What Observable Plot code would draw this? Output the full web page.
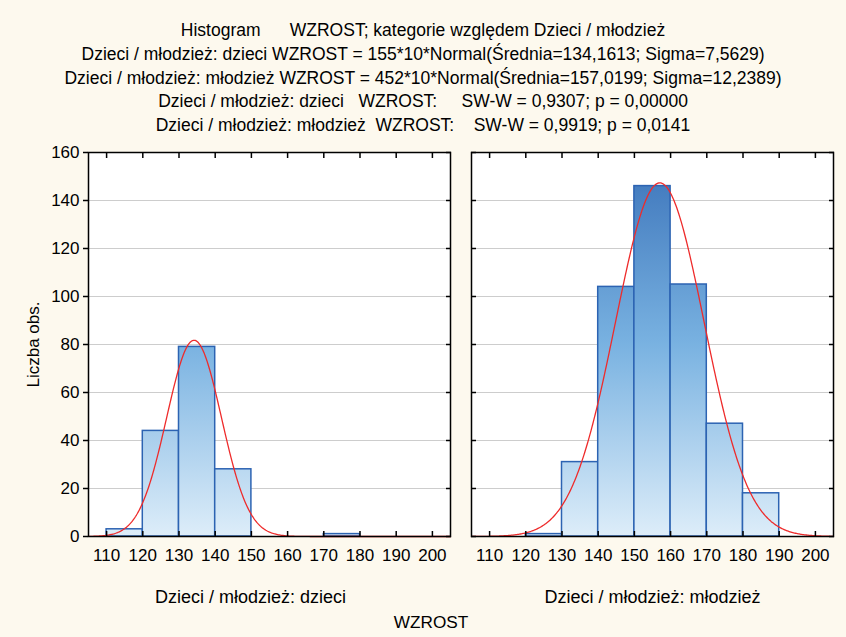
<!DOCTYPE html>
<html><head><meta charset="utf-8">
<script src="https://cdn.jsdelivr.net/npm/d3@7"></script>
<script src="https://cdn.jsdelivr.net/npm/@observablehq/plot@0.6"></script>
<style>
body{margin:0;background:#fdf9ee;}
#wrap{width:846px;height:637px;position:relative;background:#fdf9ee;font-family:"Liberation Sans",Arial,sans-serif;color:#000;overflow:hidden}
#title{padding-top:19px;height:121px;text-align:center;font-size:17.5px;line-height:23.8px;white-space:pre}
#chart{height:467px}
#xlabel{position:absolute;left:0;top:607px;width:862px;text-align:center;font-size:17.2px;line-height:30px}
</style></head><body>
<div id="wrap"><div id="title"></div><div id="chart"></div><div id="xlabel">WZROST</div></div>
<script>
const titleLines = [
  "Histogram      WZROST; kategorie względem Dzieci / młodzież",
  "Dzieci / młodzież: dzieci WZROST = 155*10*Normal(Średnia=134,1613; Sigma=7,5629)",
  "Dzieci / młodzież: młodzież WZROST = 452*10*Normal(Średnia=157,0199; Sigma=12,2389)",
  "Dzieci / młodzież: dzieci   WZROST:     SW-W = 0,9307; p = 0,00000",
  "Dzieci / młodzież: młodzież  WZROST:    SW-W = 0,9919; p = 0,0141"
];
const groups = ["dzieci", "młodzież"];
const groupLabels = ["Dzieci / młodzież: dzieci", "Dzieci / młodzież: młodzież"];
const binStarts = [110, 120, 130, 140, 150, 160, 170, 180, 190];
const binWidth = 10;
const dzieciCounts = [3, 44, 79, 28, 0, 0, 1, 0, 0];
const mlodziezCounts = [0, 1, 31, 104, 146, 105, 47, 18, 0];
const fitN = [155, 452];
const fitScale = 10;
const fitMean = [134.1613, 157.0199];
const fitSigma = [7.5629, 12.2389];
const xDomain = [105, 205];
const xTicks = [110, 120, 130, 140, 150, 160, 170, 180, 190, 200];
const yTicks = [0, 20, 40, 60, 80, 100, 120, 140, 160];
const yLabel = "Liczba obs.";

document.getElementById("title").textContent = titleLines.join("\n");

const countsByGroup = [dzieciCounts, mlodziezCounts];
const bars = [];
groups.forEach((g, gi) => {
  binStarts.forEach((b, i) => {
    const c = countsByGroup[gi][i];
    if (c > 0) bars.push({group: g, x1: b, x2: b + binWidth, count: c});
  });
});

// fitted normal curves from the parameters stated in the title
const curve = [];
groups.forEach((g, gi) => {
  const n = fitN[gi], m = fitMean[gi], s = fitSigma[gi];
  for (let x = xDomain[0]; x <= xDomain[1] + 1e-9; x += 0.25) {
    const y = n * fitScale * Math.exp(-0.5 * ((x - m) / s) ** 2) / (s * Math.sqrt(2 * Math.PI));
    curve.push({group: g, x, y});
  }
});

const chart = Plot.plot({
  width: 846, height: 467,
  marginTop: 12, marginLeft: 88, marginRight: 12, marginBottom: 71,
  style: {fontFamily: "Liberation Sans, Arial, sans-serif", fontSize: "17px", background: "transparent", color: "black", overflow: "visible"},
  fx: {domain: groups, paddingInner: 0.054, paddingOuter: 0, label: null},
  x: {domain: xDomain, label: null},
  y: {domain: [yTicks[0], yTicks[yTicks.length - 1]], label: null},
  marks: [
    Plot.frame({fill: "white", stroke: "none"}),
    Plot.gridY(yTicks.slice(1, -1), {stroke: "#cdcdcd", strokeOpacity: 1, strokeWidth: 1.2}),
    Plot.rectY(bars, {fx: "group", x1: "x1", x2: "x2", y: "count", fill: "url(#barGrad)", stroke: "#2c63b2", strokeWidth: 1.5}),
    Plot.line(curve, {fx: "group", x: "x", y: "y", stroke: "#ee2b2b", strokeWidth: 1.3}),
    Plot.frame({stroke: "black", strokeWidth: 1.5}),
    Plot.axisY(yTicks, {anchor: "left", tickSize: 5, tickPadding: 4, strokeWidth: 1.5, label: yLabel, labelAnchor: "center", labelArrow: "none", labelOffset: 62}),
    Plot.axisY(yTicks, {anchor: "left", tickSize: -5, fill: "none", strokeWidth: 1.5, label: null, facetAnchor: "right-empty"}),
    Plot.axisY(yTicks, {anchor: "right", tickSize: -5, fill: "none", strokeWidth: 1.5, label: null, facetAnchor: null}),
    Plot.axisX(xTicks, {anchor: "bottom", tickSize: 0, tickPadding: 12, label: null}),
    Plot.axisX(xTicks, {anchor: "bottom", tickSize: -5, fill: "none", strokeWidth: 1.5, label: null}),
    Plot.axisX(xTicks, {anchor: "top", tickSize: -5, fill: "none", strokeWidth: 1.5, label: null}),
    Plot.axisFx({anchor: "bottom", tickSize: 0, tickPadding: 54, fontSize: 18, tickFormat: g => groupLabels[groups.indexOf(g)], label: null})
  ]
});

const ys = chart.scale("y");
const yTop = ys.apply(yTicks[yTicks.length - 1]), yBot = ys.apply(0);
const ns = "http://www.w3.org/2000/svg";
const defs = document.createElementNS(ns, "defs");
defs.innerHTML = `<linearGradient id="barGrad" gradientUnits="userSpaceOnUse" x1="0" x2="0" y1="${yTop}" y2="${yBot}">
  <stop offset="0" stop-color="#3a72b9"/><stop offset="0.5" stop-color="#79b2e1"/><stop offset="1" stop-color="#ddedf9"/></linearGradient>`;
chart.insertBefore(defs, chart.firstChild);

// left panel label sits centred under panel + its y-axis labels
const fxLabels = chart.querySelectorAll('[aria-label="fx-axis tick label"] text');
if (fxLabels.length) fxLabels[0].setAttribute("dx", "-19");

document.getElementById("chart").appendChild(chart);
</script>
</body></html>
